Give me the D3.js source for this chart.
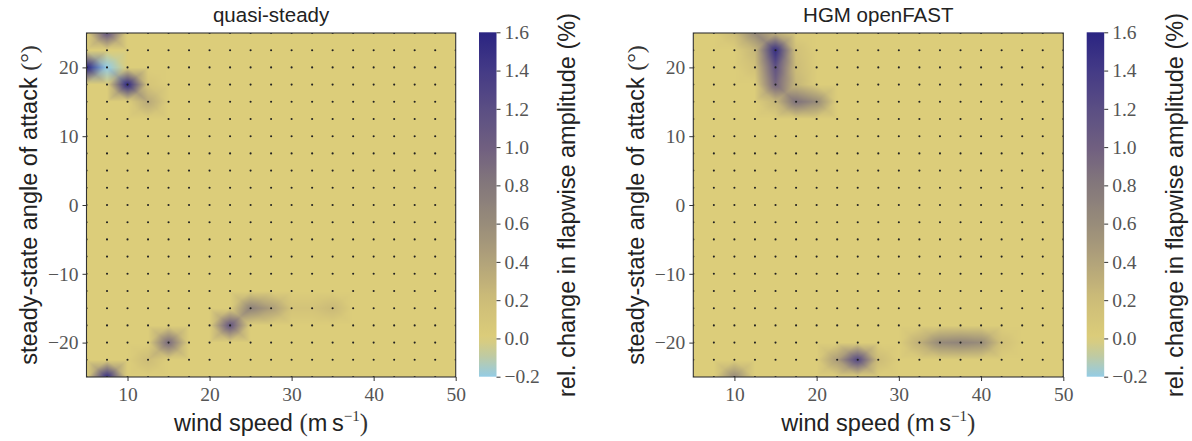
<!DOCTYPE html>
<html><head><meta charset="utf-8">
<script src="https://cdn.jsdelivr.net/npm/d3@7"></script>
<style>body{margin:0;background:#fff}svg{display:block}</style>
</head><body>
<svg id="chart" width="1192" height="441"></svg>
<script>
// grid axes
const windSpeeds = d3.range(5, 50.001, 2.5);
const angles = d3.range(-25, 25.001, 2.5);
const xTicks = [10, 20, 30, 40, 50];
const yTicks = [-20, -10, 0, 10, 20];
const cbTicks = [-0.2, 0.0, 0.2, 0.4, 0.6, 0.8, 1.0, 1.2, 1.4, 1.6];
// non-zero grid values [wind speed, angle, value]; all other grid points ~0
const quasiSteady = [
  [5, 20, 1.6], [7.5, 20, -0.2], [7.5, 25, 1.1], [10, 17.5, 1.55], [12.5, 15, 0.35], [12.5, 17.5, 0.1],
  [7.5, -25, 1.5], [12.5, -22.5, 0.2], [15, -20, 0.9], [22.5, -17.5, 1.1],
  [25, -15, 0.7], [27.5, -15, 0.45], [30, -15, 0.12], [32.5, -15, 0.12], [35, -15, 0.22]
];
const hgmOpenFAST = [
  [10, 25, 0.2], [12.5, 25, 0.6], [15, 25, 0.3], [12.5, 22.5, 0.25], [17.5, 22.5, 0.15],
  [15, 22.5, 1.5], [15, 20, 1.15], [15, 17.5, 0.95], [12.5, 20, 0.15], [17.5, 20, 0.2],
  [17.5, 17.5, 0.25], [15, 15, 0.25], [17.5, 15, 0.85], [20, 15, 0.6],
  [10, -25, 0.6], [22.5, -22.5, 0.45], [25, -22.5, 1.25], [27.5, -22.5, 0.2],
  [32.5, -20, 0.3], [35, -20, 0.62], [37.5, -20, 0.68], [40, -20, 0.6], [42.5, -20, 0.15]
];
const panelTitles = ["quasi-steady", "HGM openFAST"];
const cmapValues = [-0.2, -0.1, 0.0, 0.2, 0.4, 0.6, 0.8, 1.0, 1.2, 1.4, 1.6];
const cmapColors = ["#94cce5", "#bccaa6", "#dccd7a", "#cdbd78", "#b2a37a", "#988c7a", "#84787b", "#705f80", "#5a4e84", "#443a86", "#2a2482"];

const color = d3.scaleLinear().domain(cmapValues).range(cmapColors).clamp(true);
const svg = d3.select("#chart");
const panels = [
  {data: quasiSteady, x0: 86.5, x1: 455.7, cb: 479},
  {data: hgmOpenFAST, x0: 693.3, x1: 1063.3, cb: 1086.7}
];
const plotTop = 33, plotBottom = 377;
const serif = "'Liberation Serif', 'DejaVu Serif', serif";
const sans = "'Liberation Sans', Arial, sans-serif";
const labelSize = 23.5;

// Gouraud shading of a quad: 4 triangles around the centre, whose colour is the corner mean
function cellColor(c00, c10, c01, c11, u, v) {
  const cc = [0, 1, 2].map(k => (c00[k] + c10[k] + c01[k] + c11[k]) / 4);
  let A, B, s, t;
  if (v <= u && v <= 1 - u) { A = c00; B = c10; t = 2 * v; s = u - v; }
  else if (u >= v && u >= 1 - v) { A = c10; B = c11; t = 2 * (1 - u); s = v - (1 - u); }
  else if (v >= u && v >= 1 - u) { A = c11; B = c01; t = 2 * (1 - v); s = (1 - u) - (1 - v); }
  else { A = c01; B = c00; t = 2 * u; s = (1 - v) - u; }
  const a = 1 - s - t;
  return [0, 1, 2].map(k => a * A[k] + s * B[k] + t * cc[k]);
}

// colorbar gradient
const defs = svg.append("defs");
const grad = defs.append("linearGradient").attr("id", "cbg").attr("x1", 0).attr("y1", 1).attr("x2", 0).attr("y2", 0);
d3.range(0, 1.0001, 0.02).forEach(t => {
  const v = -0.2 + t * 1.8;
  grad.append("stop").attr("offset", t).attr("stop-color", color(v));
});

panels.forEach((p, pi) => {
  const x = d3.scaleLinear().domain([5, 50]).range([p.x0, p.x1]);
  const y = d3.scaleLinear().domain([-25, 25]).range([plotBottom, plotTop]);
  const grid = angles.map(() => windSpeeds.map(() => 0));
  p.data.forEach(([ws, a, v]) => {
    const i = Math.round((a + 25) / 2.5), j = Math.round((ws - 5) / 2.5);
    grid[i][j] = v;
  });
  const cgrid = grid.map(row => row.map(v => { const c = d3.rgb(color(v)); return [c.r, c.g, c.b]; }));
  const W = Math.round(p.x1 - p.x0), H = Math.round(plotBottom - plotTop);
  const canvas = document.createElement("canvas");
  canvas.width = W; canvas.height = H;
  const ctx = canvas.getContext("2d");
  const img = ctx.createImageData(W, H);
  const gi = d3.scaleLinear().domain([-25, 25]).range([0, angles.length - 1]);
  const gj = d3.scaleLinear().domain([5, 50]).range([0, windSpeeds.length - 1]);
  for (let py = 0; py < H; py++) {
    const av = y.invert(plotTop + (py + 0.5) * (plotBottom - plotTop) / H);
    let fi = gi(av); fi = Math.max(0, Math.min(angles.length - 1.0001, fi));
    const i0 = Math.floor(fi), ti = fi - i0;
    for (let px = 0; px < W; px++) {
      const wv = x.invert(p.x0 + (px + 0.5) * (p.x1 - p.x0) / W);
      let fj = gj(wv); fj = Math.max(0, Math.min(windSpeeds.length - 1.0001, fj));
      const j0 = Math.floor(fj), tj = fj - j0;
      const c = cellColor(cgrid[i0][j0], cgrid[i0][j0 + 1], cgrid[i0 + 1][j0], cgrid[i0 + 1][j0 + 1], tj, ti);
      const k = (py * W + px) * 4;
      img.data[k] = c[0]; img.data[k + 1] = c[1]; img.data[k + 2] = c[2]; img.data[k + 3] = 255;
    }
  }
  ctx.putImageData(img, 0, 0);
  const clipId = "clip" + pi;
  defs.append("clipPath").attr("id", clipId).append("rect")
    .attr("x", p.x0).attr("y", plotTop).attr("width", p.x1 - p.x0).attr("height", plotBottom - plotTop);
  const g = svg.append("g");
  g.append("image").attr("href", canvas.toDataURL()).attr("x", p.x0).attr("y", plotTop)
    .attr("width", p.x1 - p.x0).attr("height", plotBottom - plotTop).attr("preserveAspectRatio", "none");
  // grid dots
  const pts = [];
  angles.forEach(a => windSpeeds.forEach(ws => pts.push([ws, a])));
  g.append("g").attr("clip-path", `url(#${clipId})`).selectAll("circle").data(pts).join("circle")
    .attr("cx", d => x(d[0])).attr("cy", d => y(d[1])).attr("r", 1.05).attr("fill", "#222");
  // frame
  g.append("rect").attr("x", p.x0).attr("y", plotTop).attr("width", p.x1 - p.x0).attr("height", plotBottom - plotTop)
    .attr("fill", "none").attr("stroke", "#333").attr("stroke-width", 1.1);
  // axes
  const xa = g.append("g").attr("transform", `translate(0,${plotBottom})`)
    .call(d3.axisBottom(x).tickValues(xTicks).tickSize(4).tickPadding(4).tickFormat(d3.format("d")));
  const ya = g.append("g").attr("transform", `translate(${p.x0},0)`)
    .call(d3.axisLeft(y).tickValues(yTicks).tickSize(4).tickPadding(4).tickFormat(d => d < 0 ? "\u2212" + Math.abs(d) : d));
  [xa, ya].forEach(a => {
    a.select(".domain").remove();
    a.selectAll("line").attr("stroke", "#333").attr("stroke-width", 1);
    a.selectAll("text").attr("font-family", serif).attr("font-size", 19.5).attr("fill", "#555");
  });
  xa.selectAll("text").attr("dy", "0.8em");
  // title
  g.append("text").attr("x", (p.x0 + p.x1) / 2).attr("y", 22).attr("text-anchor", "middle")
    .attr("font-family", sans).attr("font-size", 20.5).attr("fill", "#222").text(panelTitles[pi]);
  // x label
  const xl = g.append("text").attr("x", (p.x0 + p.x1) / 2).attr("y", 431).attr("text-anchor", "middle")
    .attr("font-family", sans).attr("font-size", labelSize).attr("fill", "#222");
  xl.append("tspan").text("wind speed ");
  xl.append("tspan").attr("font-family", serif).attr("font-size", 25).attr("fill", "#333").text("(");
  xl.append("tspan").text("m\u2009s");
  xl.append("tspan").attr("font-family", serif).attr("font-size", 15).attr("dy", -10).attr("fill", "#333").text("\u22121");
  xl.append("tspan").attr("font-family", serif).attr("font-size", 25).attr("dy", 10).attr("fill", "#333").text(")");
  // y label
  const yl = g.append("text").attr("transform", `translate(${p.x0 - 49.5},205) rotate(-90)`).attr("text-anchor", "middle")
    .attr("font-family", sans).attr("font-size", labelSize).attr("fill", "#222");
  yl.append("tspan").text("steady-state angle of attack ");
  yl.append("tspan").attr("font-family", serif).attr("font-size", 24).attr("fill", "#333").text("(\u00b0)");
  // colorbar
  const cy = d3.scaleLinear().domain([-0.2, 1.6]).range([376.7, 32.3]);
  g.append("rect").attr("x", p.cb).attr("y", 32.3).attr("width", 17.5).attr("height", 376.7 - 32.3).attr("fill", "url(#cbg)");
  const ca = g.append("g").attr("transform", `translate(${p.cb + 17.5},0)`)
    .call(d3.axisRight(cy).tickValues(cbTicks).tickSize(4).tickPadding(4)
      .tickFormat(d => (d < 0 ? "\u2212" : "") + Math.abs(d).toFixed(1)));
  ca.select(".domain").remove();
  ca.selectAll("line").attr("stroke", "#333");
  ca.selectAll("text").attr("font-family", serif).attr("font-size", 19.5).attr("fill", "#555");
  g.append("text").attr("transform", `translate(${p.cb + 96},205) rotate(-90)`).attr("text-anchor", "middle")
    .attr("font-family", sans).attr("font-size", labelSize).attr("fill", "#222")
    .text("rel. change in flapwise amplitude (%)");
});
</script>
</body></html>
